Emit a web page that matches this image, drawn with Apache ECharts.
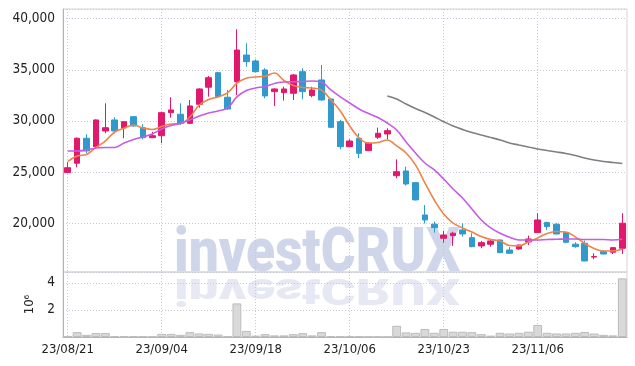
<!DOCTYPE html>
<html><head><meta charset="utf-8">
<script src="https://cdn.jsdelivr.net/npm/echarts@6.0.0/dist/echarts.min.js"></script>
<style>html,body{margin:0;padding:0;background:#fff}#c{width:635px;height:366px}</style>
</head><body><div id="c"></div>
<script>
const dates = ['23/08/21','23/08/22','23/08/23','23/08/24','23/08/25','23/08/28','23/08/29','23/08/30','23/08/31','23/09/01',
'23/09/04','23/09/05','23/09/06','23/09/07','23/09/08','23/09/11','23/09/12','23/09/13','23/09/14','23/09/15',
'23/09/18','23/09/19','23/09/20','23/09/21','23/09/22','23/09/25','23/09/26','23/09/27','23/10/04','23/10/05',
'23/10/06','23/10/10','23/10/11','23/10/12','23/10/13','23/10/16','23/10/17','23/10/18','23/10/19','23/10/20',
'23/10/23','23/10/24','23/10/25','23/10/26','23/10/27','23/10/30','23/10/31','23/11/01','23/11/02','23/11/03',
'23/11/06','23/11/07','23/11/08','23/11/09','23/11/10','23/11/13','23/11/14','23/11/15','23/11/16','23/11/17'];
const opens = [24950,25870,28310,27490,29020,30100,29340,30420,29340,28370,
28560,30810,30660,29770,31630,33300,34720,32320,33840,36450,
35870,34990,32870,32770,32710,34820,32480,34010,32150,29930,
27490,28310,27100,28410,28730,24650,25110,23970,20810,19900,
18530,18790,19340,18590,17780,17940,18360,17380,17480,18170,
19080,20070,19900,19080,17950,18040,16690,17220,17160,17550];
const closes = [25430,28310,27070,30100,29340,29020,29930,29510,28370,28560,
30810,31080,29770,31470,33130,34230,32380,31170,36940,35800,
34820,32450,33130,33130,34500,32870,33030,32050,29380,27490,
28040,26840,27820,28800,29050,25040,23840,22280,20320,19570,
18850,19020,18950,17710,18100,18270,17120,17060,17870,18460,
20320,19670,18950,18140,17710,16310,16740,16990,17610,20000];
const lows = [24900,25480,26840,27450,28800,28800,28310,29450,28210,28330,
27820,30320,29610,29700,31300,32380,32300,31100,32540,35310,
34750,32220,31470,31990,32050,32120,32320,32000,29300,27230,
27450,26350,27050,28240,28210,24400,23680,22230,19970,19080,
18100,17780,18690,17650,17550,17710,17100,17000,17420,17870,
19050,19340,18900,18040,17610,16280,16480,16950,16990,16990];
const highs = [25960,28400,28700,30150,31730,30360,29980,30480,29680,28930,
30880,32320,31730,32050,33200,34400,34800,33030,38970,37600,
36030,35160,33200,33350,34600,35160,33350,35480,32200,30100,
28210,28800,27900,29350,29290,26250,25530,24000,21780,20150,
19270,19170,20000,19020,18270,18350,18400,17680,17900,18790,
20980,20150,20000,19120,18140,18300,17060,17380,17650,20980];
const ma5 = [26020,26580,26720,27410,28040,28920,29290,29610,29320,29170,
29460,29710,29760,30390,31560,32100,32350,32740,33690,34180,
34300,34370,34690,33960,33470,33280,33230,33030,32050,30980,
29510,28340,27850,27900,28140,27560,26870,25700,23940,22270,
20900,20020,19540,19140,18700,18410,18260,17820,17780,18170,
18560,19000,19190,19140,18660,18020,17530,17290,17290,17480];
const ma20 = [27070,27070,27160,27360,27410,27410,27850,28190,28440,28730,
29220,29560,29760,30100,30490,30780,30980,31270,32350,32980,
33230,33370,33670,33810,33840,33860,33910,33810,33030,32350,
31760,31170,30730,30340,29800,29120,27950,26870,25890,25210,
24330,23350,22470,21390,20320,19540,19020,18630,18360,18360,
18360,18410,18430,18460,18460,18410,18410,18410,18360,18430];
const ma60 = [null,null,null,null,null,null,null,null,null,null,
null,null,null,null,null,null,null,null,null,null,
null,null,null,null,null,null,null,null,null,null,
null,null,null,null,32450,32150,31660,31220,30830,30390,
29930,29510,29170,28880,28630,28390,28140,27850,27650,27460,
27260,27110,26970,26820,26630,26380,26190,26040,25940,25840];
const volumes = [0.07,0.36,0.16,0.29,0.29,0.06,0.05,0.05,0.04,0.03,
0.23,0.23,0.16,0.36,0.26,0.23,0.18,0.05,2.48,0.45,
0.10,0.21,0.12,0.12,0.21,0.29,0.12,0.36,0.07,0.05,
0.05,0.04,0.02,0.02,0.02,0.83,0.34,0.31,0.59,0.31,
0.59,0.39,0.39,0.36,0.21,0.10,0.31,0.26,0.31,0.39,
0.89,0.31,0.26,0.26,0.31,0.37,0.26,0.16,0.12,4.33];

const UP = '#E2186C', DOWN = '#3299CC';
const FONT = '"DejaVu Sans Condensed","DejaVu Sans",sans-serif';
const gridLine = {show:true, lineStyle:{color:'#c6c8d8', width:1, type:[1,2]}};

const chart = echarts.init(document.getElementById('c'), null, {renderer:'canvas'});
chart.setOption({
  backgroundColor:'#ffffff',
  animation:false,
  grid:[
    {left:63, right:8, top:9, height:263, show:true, borderColor:'#d4d4d4', borderWidth:1, backgroundColor:'transparent'},
    {left:63, right:8, top:272, height:65, show:true, borderColor:'#d4d4d4', borderWidth:1, backgroundColor:'transparent'}
  ],
  graphic:[
    {type:'text', z:-10, x:174, y:224, scaleX:0.86,
     style:{text:'investCRUX', font:'900 62px Roboto', fill:'rgba(150,163,208,0.45)', textVerticalAlign:'top'}},
    {type:'text', z:-10, x:174, y:307, scaleX:0.86, scaleY:-0.61,
     style:{text:'investCRUX', font:'900 62px Roboto', fill:'rgba(150,163,208,0.24)', textVerticalAlign:'top'}}
  ],
  xAxis:[
    {type:'category', data:dates, gridIndex:0, boundaryGap:true,
     axisLine:{show:false}, axisTick:{show:false}, axisLabel:{show:false},
     splitLine:Object.assign({interval:9, alignWithLabel:true}, gridLine)},
    {type:'category', data:dates, gridIndex:1, boundaryGap:true,
     axisLine:{show:true, lineStyle:{color:'#b4b4b4'}}, axisTick:{show:false},
     axisLabel:{interval:9, color:'#222', fontFamily:FONT, fontSize:13, margin:6},
     splitLine:Object.assign({interval:9, alignWithLabel:true}, gridLine)}
  ],
  yAxis:[
    {type:'value', gridIndex:0, min:15230, max:40950, splitNumber:5,
     axisLine:{show:true, lineStyle:{color:'#b4b4b4'}}, axisTick:{show:false},
     axisLabel:{showMinLabel:false, showMaxLabel:false, color:'#222', fontFamily:FONT, fontSize:13.5, margin:8,
       formatter:v => (v % 5000 === 0 ? v.toLocaleString('en-US') : '')},
     splitLine:gridLine},
    {type:'value', gridIndex:1, min:0, max:4800000, interval:2000000,
     name:'10⁶', nameLocation:'middle', nameGap:25, nameRotate:90,
     nameTextStyle:{color:'#222', fontFamily:FONT, fontSize:13},
     axisLine:{show:true, lineStyle:{color:'#b4b4b4'}}, axisTick:{show:false},
     axisLabel:{showMaxLabel:false, color:'#222', fontFamily:FONT, fontSize:13.5, margin:8,
       formatter:v => (v === 0 || v % 2000000 !== 0 ? '' : String(v/1e6))},
     splitLine:gridLine}
  ],
  series:[
    {type:'candlestick', xAxisIndex:0, yAxisIndex:0, barWidth:6,
     data:dates.map((d,i)=>[opens[i], closes[i], lows[i], highs[i]]),
     itemStyle:{color:UP, color0:DOWN, borderColor:UP, borderColor0:DOWN, borderWidth:1}},
    {type:'line', name:'MA5', xAxisIndex:0, yAxisIndex:0, data:ma5, smooth:0.4, showSymbol:false,
     lineStyle:{color:'#EE8448', width:1.6}},
    {type:'line', name:'MA20', xAxisIndex:0, yAxisIndex:0, data:ma20, smooth:0.4, showSymbol:false,
     lineStyle:{color:'#C65BE6', width:1.6}},
    {type:'line', name:'MA60', xAxisIndex:0, yAxisIndex:0, data:ma60, smooth:0.4, showSymbol:false,
     lineStyle:{color:'#7f7f7f', width:1.6}},
    {type:'bar', xAxisIndex:1, yAxisIndex:1, data:volumes.map(v=>v*1e6), barCategoryGap:'6%',
     itemStyle:{color:'#d9d9d9', borderColor:'#bcbcbc', borderWidth:1}}
  ]
});
</script></body></html>
